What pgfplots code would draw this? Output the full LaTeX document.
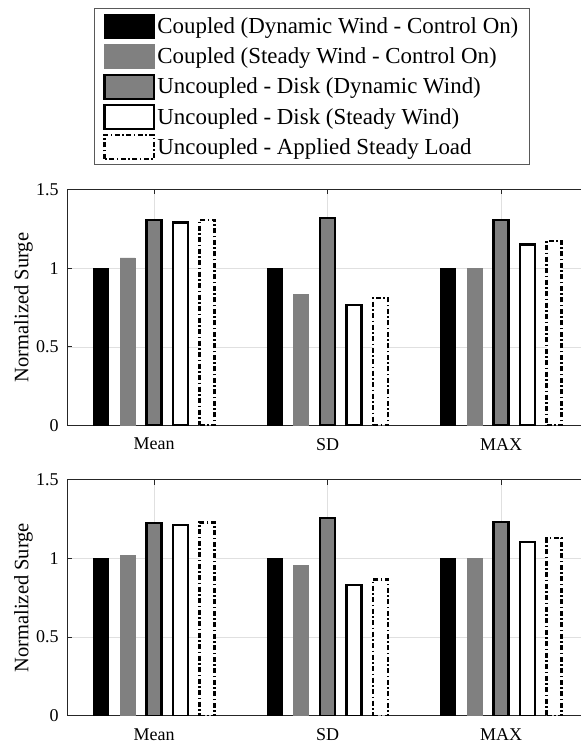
\documentclass[border=0pt]{standalone}
\usepackage{pgfplots}
\pgfplotsset{compat=1.18}
\usepackage{fontspec}
\setmainfont{Liberation Serif}
\begin{document}
\begin{tikzpicture}
\useasboundingbox (0,0) rectangle (581pt,745pt);
\pgfplotsset{
  mylegend/.style={legend image code/.code={%
    \path[draw=none,fill=none] (0pt,-15.05pt) rectangle (51pt,15.05pt);
    \draw[##1] (0.6pt,-12pt) rectangle (50.4pt,12pt);}},
  myaxis/.style={
    width=520.5pt, height=236pt, scale only axis,
    xmin=0.5, xmax=3.5, ymin=0, ymax=1.5,
    xtick={1,2,3}, xticklabels={Mean,SD,MAX},
    ytick={0,0.5,1,1.5}, yticklabels={0,0.5,1,1.5},
    ybar=11.5pt, bar width=15pt,
    tick align=inside, major tick length=5pt,
    xmajorgrids, ymajorgrids, grid style={black!12, line width=0.6pt},
    axis line style={black!85, line width=0.7pt},
    tick style={black!85, line width=0.7pt},
    ticklabel style={font=\fontsize{18}{21}\selectfont},
    xticklabel style={inner sep=0pt, anchor=north, yshift=-12.5pt},
    yticklabel style={inner sep=0pt, anchor=east, xshift=-8.5pt},
    every axis y label/.style={at={(axis description cs:-0.084,0.5)}, rotate=90, anchor=center},
    ylabel style={font=\fontsize{20.5}{24}\selectfont},
    ylabel={Normalized Surge},
  },
  s1/.style={fill=black, draw=black, line width=0.5pt, mylegend},
  s2/.style={fill=black!50, draw=black!50, line width=0.5pt, mylegend},
  s3/.style={fill=black!50, draw=black, line width=2.3pt, mylegend},
  s4/.style={fill=white, draw=black, line width=2.3pt, mylegend},
  s5/.style={fill=white, draw=black, line width=2.3pt, dash pattern=on 5pt off 2.5pt on 1.5pt off 2.5pt, mylegend},
}
\begin{axis}[myaxis, at={(67.3pt,319.5pt)}, anchor=south west,
  legend style={at={(axis description cs:0.0513,1.767)}, anchor=north west,
    draw=black!65, line width=0.6pt, font=\fontsize{22.9}{27}\selectfont,
    inner xsep=9pt, inner ysep=2.7pt, row sep=0pt,
    nodes={inner xsep=2pt, inner ysep=0pt}},
  legend cell align=left]
\addplot[s1] coordinates {(1,1.0) (2,1.0) (3,1.0)};
\addlegendentry{Coupled (Dynamic Wind - Control On)}
\addplot[s2] coordinates {(1,1.065) (2,0.834) (3,1.0)};
\addlegendentry{Coupled (Steady Wind - Control On)}
\addplot[s3] coordinates {(1,1.305) (2,1.32) (3,1.305)};
\addlegendentry{Uncoupled - Disk (Dynamic Wind)}
\addplot[s4] coordinates {(1,1.29) (2,0.768) (3,1.15)};
\addlegendentry{Uncoupled - Disk (Steady Wind)}
\addplot[s5] coordinates {(1,1.307) (2,0.81) (3,1.172)};
\addlegendentry{Uncoupled - Applied Steady Load}
\end{axis}
\begin{axis}[myaxis, at={(67.3pt,29.3pt)}, anchor=south west]
\addplot[s1] coordinates {(1,1.0) (2,1.0) (3,1.0)};
\addplot[s2] coordinates {(1,1.02) (2,0.956) (3,1.0)};
\addplot[s3] coordinates {(1,1.226) (2,1.258) (3,1.232)};
\addplot[s4] coordinates {(1,1.211) (2,0.83) (3,1.103)};
\addplot[s5] coordinates {(1,1.228) (2,0.866) (3,1.128)};
\end{axis}
\end{tikzpicture}
\end{document}
